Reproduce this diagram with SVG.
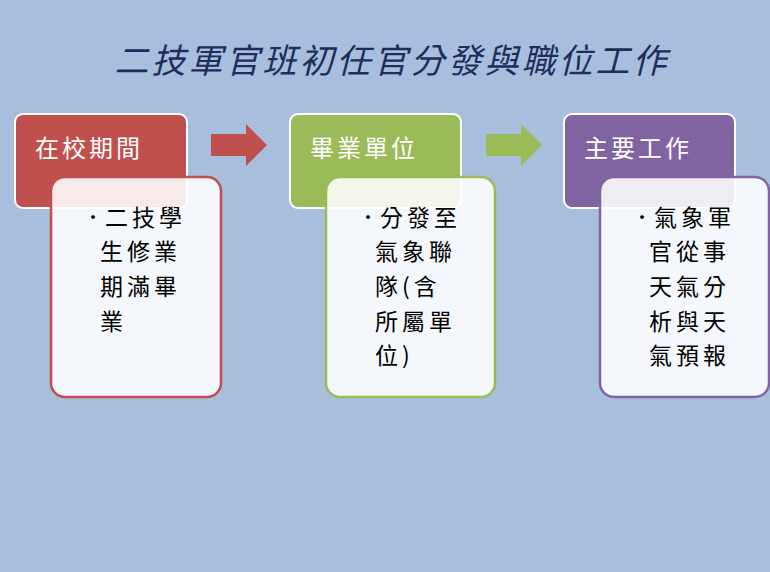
<svg xmlns="http://www.w3.org/2000/svg" width="770" height="572" viewBox="0 0 770 572">
<style>
text{font-family:"Noto Sans CJK TC","Noto Sans CJK SC",sans-serif}
.h{fill:#fff;font-size:24px;letter-spacing:3px}
.b{fill:#000;font-size:23px;letter-spacing:4px}
.u{fill:#000;font-size:18px}
.hd{stroke:#fff;stroke-width:2}
.bd{fill:#fff;fill-opacity:0.88;stroke-width:2.5}
</style>
<rect width="770" height="572" fill="#a7bfdd"/>
<text x="392" y="73" text-anchor="middle" font-size="34" font-style="italic" fill="#1f2d5a" letter-spacing="3">二技軍官班初任官分發與職位工作</text>
<g id="connectors">
<polygon points="211,134 246,134 246,124 267,145 246,166 246,156 211,156" fill="#c0504d"/>
<polygon points="486,134 521,134 521,124 542,145 521,166 521,156 486,156" fill="#9bbb59"/>
</g>
<g id="n1">
<rect class="hd" x="15" y="114" width="172" height="94" rx="8" fill="#c0504d"/>
<text class="h" x="35" y="157">在校期間</text>
<rect class="bd" x="51" y="177" width="170" height="220" rx="14" stroke="#c0504d"/>
<text class="u" x="84" y="224">•</text>
<text class="b" x="105" y="226">二技學</text>
<text class="b" x="100" y="260">生修業</text>
<text class="b" x="100" y="295">期滿畢</text>
<text class="b" x="100" y="330">業</text>
</g>
<g id="n2">
<rect class="hd" x="290" y="114" width="171" height="94" rx="8" fill="#9bbb59"/>
<text class="h" x="310" y="157">畢業單位</text>
<rect class="bd" x="326" y="177" width="169" height="220" rx="14" stroke="#9bbb59"/>
<text class="u" x="359" y="224">•</text>
<text class="b" x="380" y="226">分發至</text>
<text class="b" x="375" y="260">氣象聯</text>
<text class="b" x="375" y="295">隊(含</text>
<text class="b" x="375" y="330">所屬單</text>
<text class="b" x="375" y="364">位)</text>
</g>
<g id="n3">
<rect class="hd" x="564" y="114" width="171" height="94" rx="8" fill="#8064a2"/>
<text class="h" x="584" y="157">主要工作</text>
<rect class="bd" x="600" y="177" width="169" height="220" rx="14" stroke="#8064a2"/>
<text class="u" x="633" y="224">•</text>
<text class="b" x="654" y="226">氣象軍</text>
<text class="b" x="649" y="260">官從事</text>
<text class="b" x="649" y="295">天氣分</text>
<text class="b" x="649" y="330">析與天</text>
<text class="b" x="649" y="364">氣預報</text>
</g>
</svg>
